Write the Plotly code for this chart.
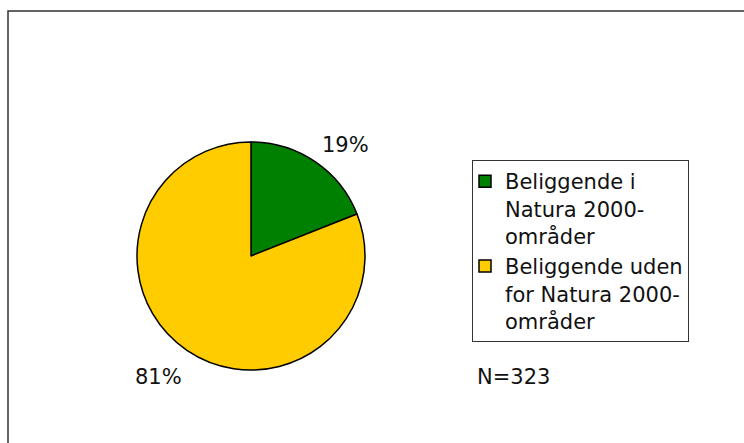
import plotly.graph_objects as go

categories = ["Beliggende i<br>Natura 2000-<br>områder",
              "Beliggende uden<br>for Natura 2000-<br>områder"]
values = [19, 81]
colors = ["#008000", "#FFCC00"]
n_total = 323

W, H = 744, 443
FONT = "DejaVu Sans"

fig = go.Figure()
fig.add_trace(go.Pie(
    labels=categories,
    values=values,
    sort=False,
    direction="clockwise",
    rotation=0,
    textinfo="none",
    hoverinfo="label+percent",
    marker=dict(colors=colors, line=dict(color="#000000", width=1.5)),
    domain=dict(x=[137 / W, 365 / W], y=[(H - 370) / H, (H - 142) / H]),
))

total = sum(values)
label_pos = [(345, 145), (158, 377)]
annotations = []
for v, (px, py) in zip(values, label_pos):
    annotations.append(dict(
        text=f"{round(100 * v / total)}%", x=px / W, y=(H - py) / H,
        xref="paper", yref="paper", showarrow=False,
        xanchor="center", yanchor="middle",
        font=dict(family=FONT, size=21, color="#111111")))
annotations.append(dict(
    text=f"N={n_total}", x=475 / W, y=(H - 377) / H,
    xref="paper", yref="paper", showarrow=False,
    xanchor="left", yanchor="middle",
    font=dict(family=FONT, size=21, color="#111111")))

fig.update_layout(
    width=W, height=H,
    margin=dict(l=0, r=0, t=0, b=0),
    paper_bgcolor="white",
    plot_bgcolor="white",
    showlegend=True,
    legend=dict(
        x=472 / W, y=(H - 160) / H, xanchor="left", yanchor="top",
        bordercolor="#333333", borderwidth=1, bgcolor="white",
        font=dict(family=FONT, size=21, color="#111111"),
        itemclick=False, tracegroupgap=0, valign="top",
        indentation=-8,
    ),
    annotations=annotations,
    shapes=[dict(type="rect", xref="paper", yref="paper",
                 x0=8 / W, x1=1.05, y0=-0.05, y1=(H - 11) / H,
                 line=dict(color="#333333", width=1.5))],
)

fig.write_html("out.html", config={"displayModeBar": False})

# remove the browser's default page margin so the figure sits at (0, 0)
with open("out.html", encoding="utf-8") as f:
    html = f.read()
html = html.replace("<head>", "<head><style>html,body{margin:0;padding:0;}</style>", 1)
with open("out.html", "w", encoding="utf-8") as f:
    f.write(html)
